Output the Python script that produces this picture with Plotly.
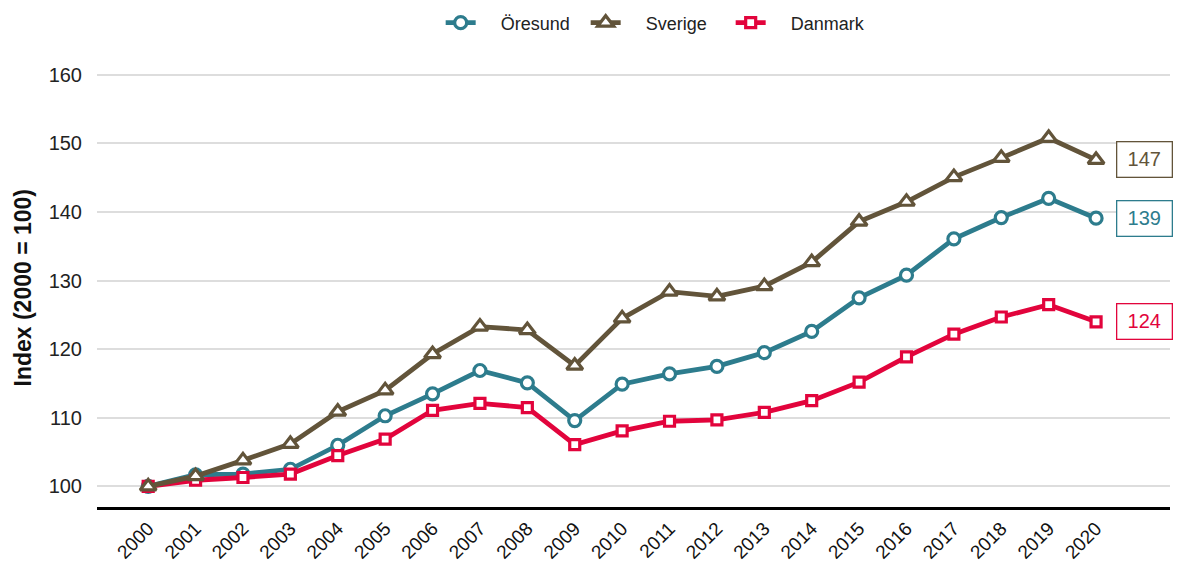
import plotly.graph_objects as go

years = list(range(2000, 2021))
oresund = [100, 101.7, 101.8, 102.5, 106.0, 110.3, 113.5, 116.9, 115.1, 109.6, 114.9,
           116.4, 117.5, 119.5, 122.6, 127.5, 130.8, 136.1, 139.2, 142.0, 139.1]
sverige = [100, 101.5, 103.8, 106.2, 110.9, 114.0, 119.3, 123.3, 122.8, 117.6, 124.5,
           128.4, 127.7, 129.2, 132.7, 138.6, 141.5, 145.1, 147.9, 150.8, 147.6]
danmark = [100, 100.9, 101.3, 101.8, 104.5, 106.9, 111.1, 112.1, 111.5, 106.1, 108.1,
           109.5, 109.7, 110.8, 112.5, 115.2, 118.9, 122.2, 124.7, 126.5, 124.0]

# drawing order: Öresund, Danmark, Sverige on top; legend order kept by legendrank
series = [
    ("Öresund", oresund, "#2D7C8D", "circle", 12, "139", 1),
    ("Danmark", danmark, "#E2043C", "square", 10, "124", 3),
    ("Sverige", sverige, "#62543A", "triangle-up", 14, "147", 2),
]

# the page body adds an 8px margin, so the figure is a bit smaller
W, H = 1185 - 8, 562 - 8
L, R, T, B = 89, 15, 60, 55
pw = W - L - R

fig = go.Figure()
for name, vals, col, sym, sz, lab, rank in series:
    fig.add_trace(go.Scatter(
        x=years, y=vals, name="\u00a0\u00a0\u00a0\u00a0" + name, mode="lines+markers",
        legendrank=rank,
        line=dict(color=col, width=4.8),
        marker=dict(symbol=sym, size=sz, color="white", line=dict(color=col, width=3.2)),
    ))
    fig.add_annotation(x=2021.03, y=vals[-1], text=lab, showarrow=False,
                       font=dict(size=20, color=col), width=54, height=34,
                       bordercolor=col, borderwidth=1.3, borderpad=0,
                       bgcolor="white", xanchor="center", yanchor="middle")

# y-axis title placed by hand
fig.add_annotation(xref="paper", yref="paper", x=-75 / pw, y=0.5,
                   text="<b>Index (2000 = 100)</b>", textangle=-90, showarrow=False,
                   font=dict(size=23, color="#111"), xanchor="center", yanchor="middle")

fig.update_layout(
    width=W, height=H,
    margin=dict(l=L, r=R, t=T, b=B, autoexpand=False),
    paper_bgcolor="white", plot_bgcolor="white",
    font=dict(family="Liberation Sans, Arial", color="#222"),
    showlegend=True,
    legend=dict(orientation="h", x=0.523, xanchor="center", yref="container",
                y=1 - 15 / H, yanchor="middle",
                font=dict(size=18, color="#222"), entrywidth=100),
)
fig.update_xaxes(range=[1998.92, 2021.56], tickmode="array", tickvals=years,
                 ticktext=[str(y) for y in years], tickangle=-45, automargin=False,
                 tickfont=dict(size=19, color="#111"), showgrid=False,
                 showline=True, linecolor="black", linewidth=3, zeroline=False)
fig.update_yaxes(range=[97, 161], tickvals=[100, 110, 120, 130, 140, 150, 160],
                 tickfont=dict(size=20, color="#222"), showgrid=True, automargin=False,
                 gridcolor="#DDDDDD", gridwidth=1.5, zeroline=False,
                 ticklabelstandoff=14)

fig.write_html("out.html")
